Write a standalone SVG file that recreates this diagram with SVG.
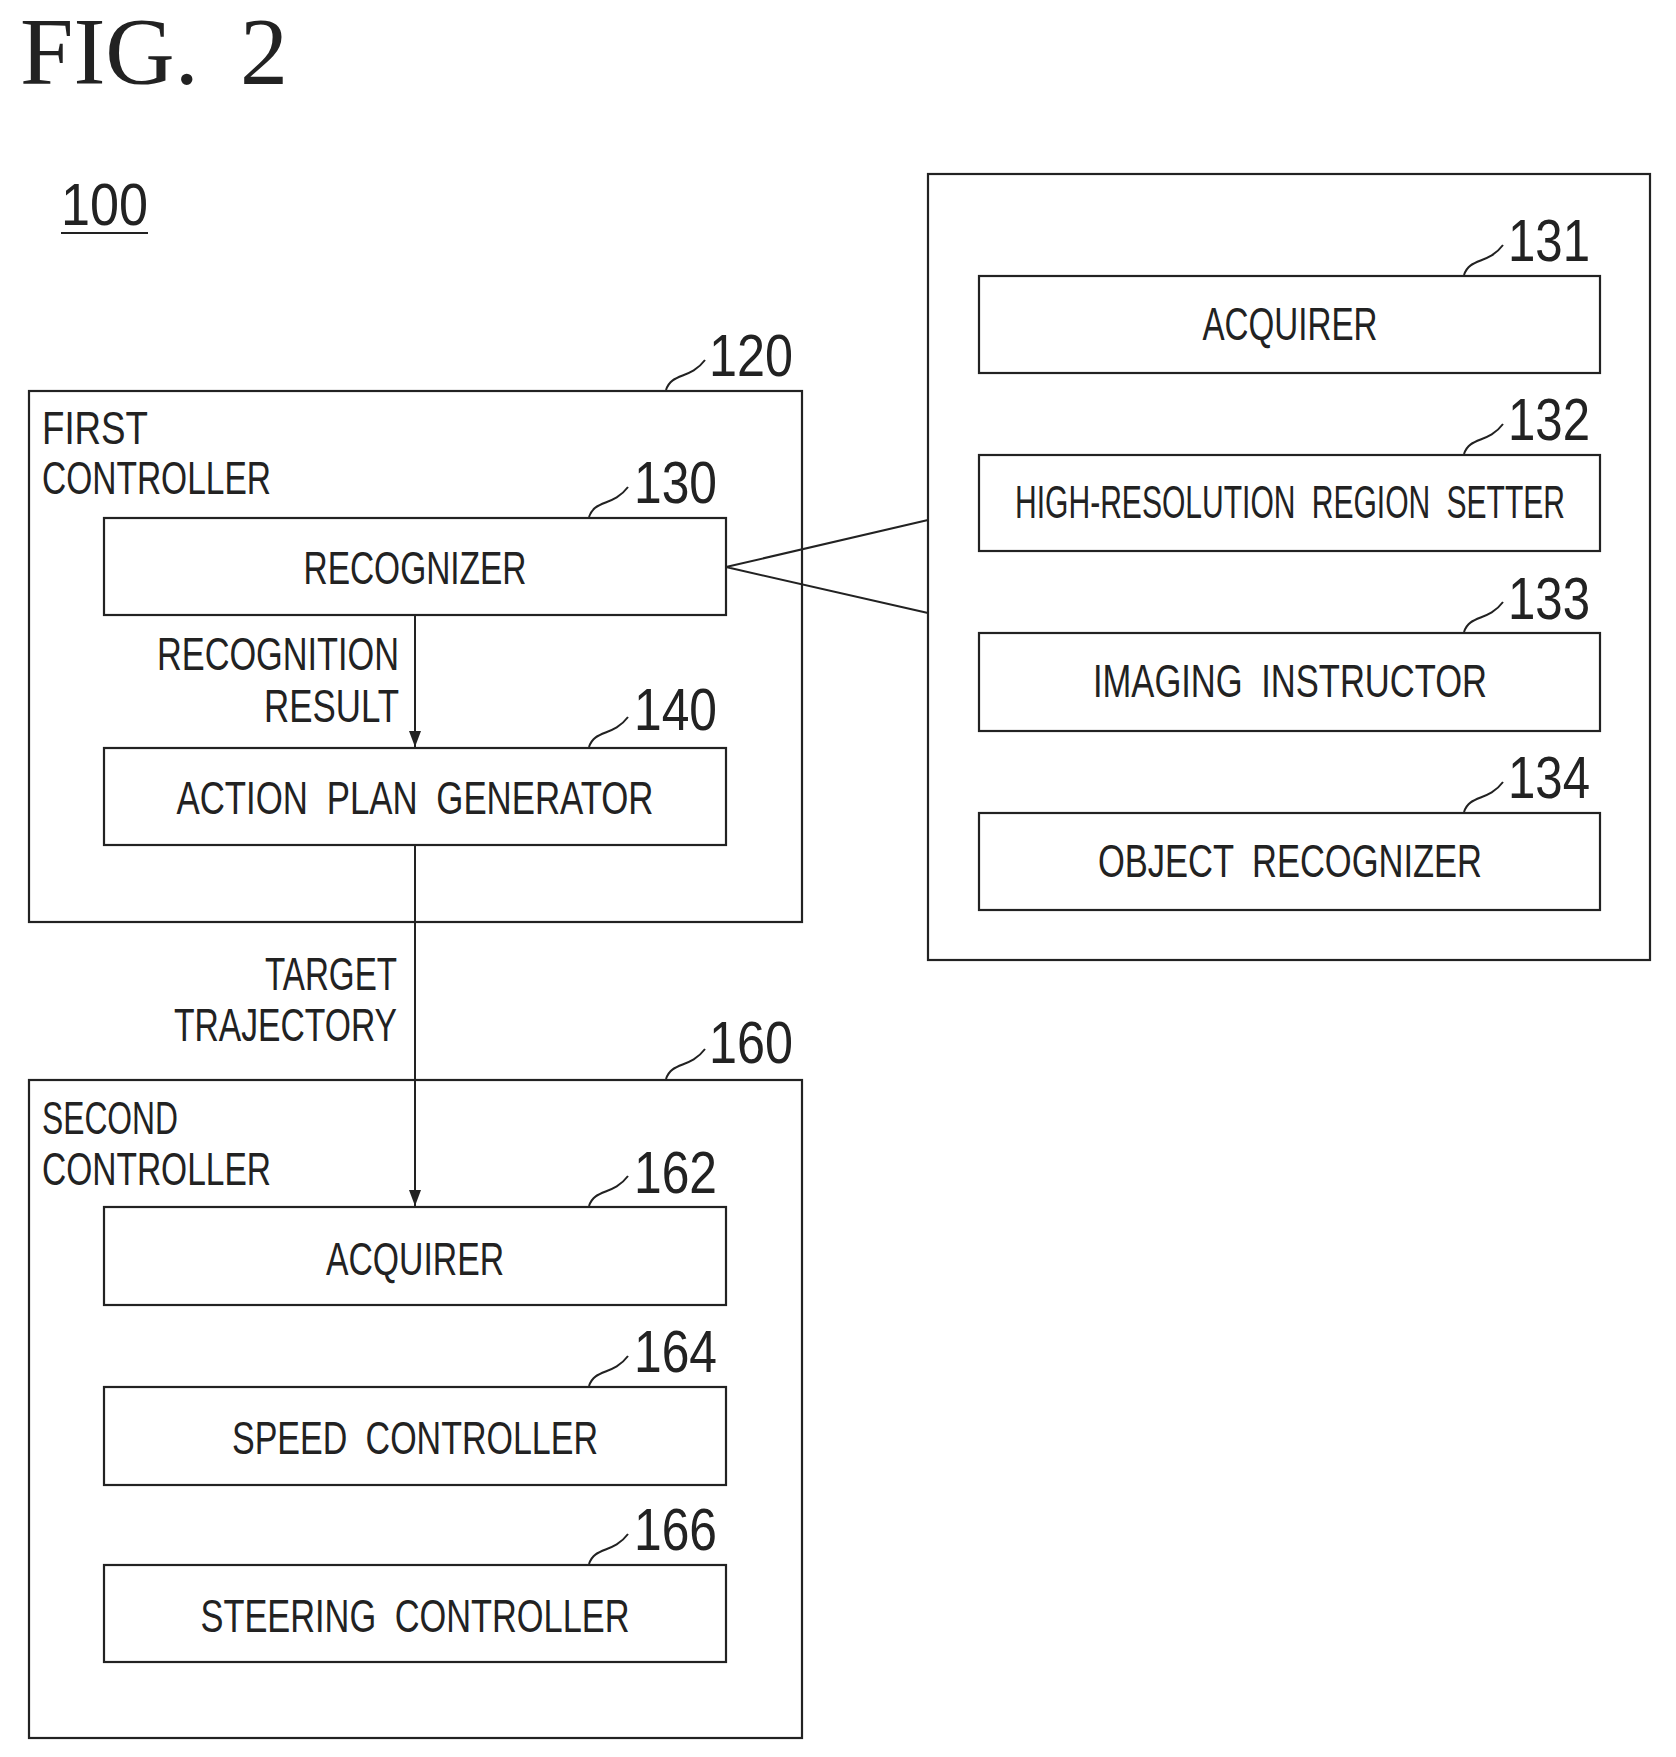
<svg xmlns="http://www.w3.org/2000/svg" width="1676" height="1757" viewBox="0 0 1676 1757">
<style>
.b{fill:none;stroke:#222;stroke-width:2.2}
.t{font-family:"Liberation Sans",sans-serif;font-size:46px;fill:#222;word-spacing:12px}
.n{font-family:"Liberation Sans",sans-serif;font-size:60px;fill:#222}
.c{text-anchor:middle}
.e{text-anchor:end}
.l{fill:none;stroke:#222;stroke-width:2}
</style>
<defs><marker id="a" markerWidth="16" markerHeight="12" refX="16" refY="6" orient="auto" markerUnits="userSpaceOnUse" viewBox="0 0 16 12"><path d="M0,0 L16,6 L0,12 Z" fill="#222"/></marker></defs>
<rect width="1676" height="1757" fill="#fff"/>
<text x="20" y="84" font-family="Liberation Serif,serif" font-size="96" fill="#222">FIG.</text>
<text x="240" y="84" font-family="Liberation Serif,serif" font-size="96" fill="#222">2</text>
<g id="n100"><text class="n" x="61" y="225" textLength="87" lengthAdjust="spacingAndGlyphs">100</text><line class="l" x1="61" y1="233" x2="148" y2="233"/></g>
<g id="n120"><rect class="b" x="29" y="391" width="773" height="531"/>
<text class="t" x="42" y="444" textLength="106" lengthAdjust="spacingAndGlyphs">FIRST</text>
<text class="t" x="42" y="494" textLength="229" lengthAdjust="spacingAndGlyphs">CONTROLLER</text>
<text class="n" x="709" y="376" textLength="84" lengthAdjust="spacingAndGlyphs">120</text>
<path class="l" d="M666,390 C672,372 690,380 705,360"/></g>
<g id="n130"><rect class="b" x="104" y="518" width="622" height="97"/>
<text class="t c" x="415" y="584" textLength="223" lengthAdjust="spacingAndGlyphs">RECOGNIZER</text>
<text class="n" x="634" y="503" textLength="83" lengthAdjust="spacingAndGlyphs">130</text>
<path class="l" d="M589,517 C595,499 613,507 628,487"/></g>
<g id="n140"><rect class="b" x="104" y="748" width="622" height="97"/>
<text class="t c" x="415" y="814" textLength="477" lengthAdjust="spacingAndGlyphs">ACTION PLAN GENERATOR</text>
<text class="n" x="634" y="730" textLength="83" lengthAdjust="spacingAndGlyphs">140</text>
<path class="l" d="M589,747 C595,729 613,737 628,717"/></g>
<g id="n160"><rect class="b" x="29" y="1080" width="773" height="658"/>
<text class="t" x="42" y="1134" textLength="136" lengthAdjust="spacingAndGlyphs">SECOND</text>
<text class="t" x="42" y="1185" textLength="229" lengthAdjust="spacingAndGlyphs">CONTROLLER</text>
<text class="n" x="709" y="1063" textLength="84" lengthAdjust="spacingAndGlyphs">160</text>
<path class="l" d="M666,1079 C672,1061 690,1069 705,1049"/></g>
<g id="n162"><rect class="b" x="104" y="1207" width="622" height="98"/>
<text class="t c" x="415" y="1275" textLength="178" lengthAdjust="spacingAndGlyphs">ACQUIRER</text>
<text class="n" x="634" y="1193" textLength="83" lengthAdjust="spacingAndGlyphs">162</text>
<path class="l" d="M589,1206 C595,1188 613,1196 628,1176"/></g>
<g id="n164"><rect class="b" x="104" y="1387" width="622" height="98"/>
<text class="t c" x="415" y="1454" textLength="366" lengthAdjust="spacingAndGlyphs">SPEED CONTROLLER</text>
<text class="n" x="634" y="1372" textLength="83" lengthAdjust="spacingAndGlyphs">164</text>
<path class="l" d="M589,1386 C595,1368 613,1376 628,1356"/></g>
<g id="n166"><rect class="b" x="104" y="1565" width="622" height="97"/>
<text class="t c" x="415" y="1632" textLength="429" lengthAdjust="spacingAndGlyphs">STEERING CONTROLLER</text>
<text class="n" x="634" y="1550" textLength="83" lengthAdjust="spacingAndGlyphs">166</text>
<path class="l" d="M589,1564 C595,1546 613,1554 628,1534"/></g>
<g id="detail"><rect class="b" x="928" y="174" width="722" height="786"/></g>
<g id="n131"><rect class="b" x="979" y="276" width="621" height="97"/>
<text class="t c" x="1290" y="340" textLength="175" lengthAdjust="spacingAndGlyphs">ACQUIRER</text>
<text class="n" x="1508" y="261" textLength="82" lengthAdjust="spacingAndGlyphs">131</text>
<path class="l" d="M1464,275 C1470,257 1488,265 1503,245"/></g>
<g id="n132"><rect class="b" x="979" y="455" width="621" height="96"/>
<text class="t c" x="1290" y="518" textLength="550" lengthAdjust="spacingAndGlyphs">HIGH-RESOLUTION REGION SETTER</text>
<text class="n" x="1508" y="440" textLength="82" lengthAdjust="spacingAndGlyphs">132</text>
<path class="l" d="M1464,454 C1470,436 1488,444 1503,424"/></g>
<g id="n133"><rect class="b" x="979" y="633" width="621" height="98"/>
<text class="t c" x="1290" y="697" textLength="394" lengthAdjust="spacingAndGlyphs">IMAGING INSTRUCTOR</text>
<text class="n" x="1508" y="619" textLength="82" lengthAdjust="spacingAndGlyphs">133</text>
<path class="l" d="M1464,632 C1470,614 1488,622 1503,602"/></g>
<g id="n134"><rect class="b" x="979" y="813" width="621" height="97"/>
<text class="t c" x="1290" y="877" textLength="384" lengthAdjust="spacingAndGlyphs">OBJECT RECOGNIZER</text>
<text class="n" x="1508" y="798" textLength="82" lengthAdjust="spacingAndGlyphs">134</text>
<path class="l" d="M1464,812 C1470,794 1488,802 1503,782"/></g>
<g id="connectors">
<line class="l" x1="415" y1="615" x2="415" y2="747" marker-end="url(#a)"/>
<line class="l" x1="415" y1="845" x2="415" y2="1206" marker-end="url(#a)"/>
<polyline class="l" points="928,520 726,567 928,613"/>
<text class="t e" x="399" y="670" textLength="242" lengthAdjust="spacingAndGlyphs">RECOGNITION</text>
<text class="t e" x="399" y="722" textLength="135" lengthAdjust="spacingAndGlyphs">RESULT</text>
<text class="t e" x="397" y="990" textLength="132" lengthAdjust="spacingAndGlyphs">TARGET</text>
<text class="t e" x="397" y="1041" textLength="223" lengthAdjust="spacingAndGlyphs">TRAJECTORY</text>
</g>
</svg>
